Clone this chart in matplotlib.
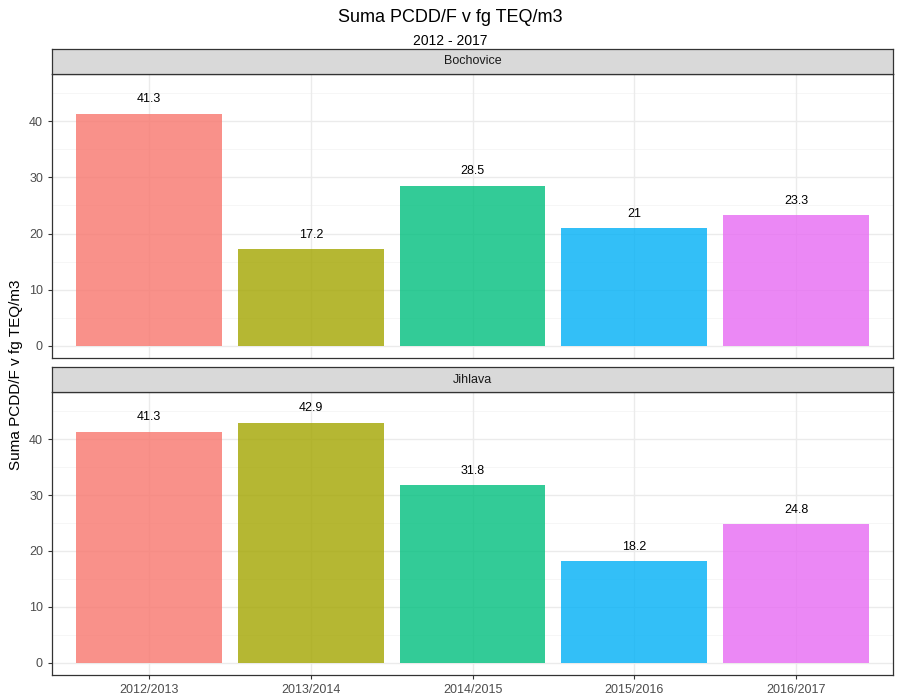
import matplotlib.pyplot as plt

plt.rcParams['font.family'] = ['Liberation Sans', 'DejaVu Sans']

seasons = ['2012/2013', '2013/2014', '2014/2015', '2015/2016', '2016/2017']
sites = ['Bochovice', 'Jihlava']
bochovice = [41.3, 17.2, 28.5, 21, 23.3]
jihlava = [41.3, 42.9, 31.8, 18.2, 24.8]
colors = ['#F8766D', '#A3A500', '#00BF7D', '#00B0F6', '#E76BF3']

W, H = 900, 700
fig = plt.figure(figsize=(9, 7), dpi=100)

def px_axes(x0, y0, x1, y1):
    return fig.add_axes([x0 / W, 1 - y1 / H, (x1 - x0) / W, (y1 - y0) / H])

panels = [(74, 358, 49), (392, 675, 367)]
data = [bochovice, jihlava]

for i, ((top, bot, stop), vals, site) in enumerate(zip(panels, data, sites)):
    ax = px_axes(52, top, 893, bot)
    xs = range(len(seasons))
    ax.set_xlim(-0.6, 4.6)
    ax.set_ylim(-2.15, 48.4)
    for y in [5, 15, 25, 35, 45]:
        ax.axhline(y, color='#F5F5F5', lw=0.6, zorder=0)
    for y in [0, 10, 20, 30, 40]:
        ax.axhline(y, color='#EBEBEB', lw=1.0, zorder=0)
    for x in xs:
        ax.axvline(x, color='#EBEBEB', lw=1.0, zorder=0)
    ax.bar(xs, vals, width=0.9, color=colors, alpha=0.8, zorder=2)
    for x, v in zip(xs, vals):
        ax.text(x, v + 1.5, f'{v:g}', ha='center', va='bottom', fontsize=9, color='black')
    ax.set_yticks([0, 10, 20, 30, 40])
    ax.tick_params(axis='y', labelsize=9, labelcolor='#4D4D4D', color='#333333', length=3)
    ax.set_xticks(list(xs))
    if i == 1:
        ax.set_xticklabels(seasons)
        ax.tick_params(axis='x', labelsize=9, labelcolor='#4D4D4D', color='#333333', length=3)
    else:
        ax.tick_params(axis='x', length=0, labelbottom=False)
    for s in ax.spines.values():
        s.set_color('#333333')
        s.set_linewidth(0.9)

    # facet strip
    sax = px_axes(52, stop, 893, top)
    sax.set_xticks([])
    sax.set_yticks([])
    sax.set_facecolor('#D9D9D9')
    for s in sax.spines.values():
        s.set_color('#333333')
        s.set_linewidth(0.9)
    sax.text(0.5, 0.5, site, ha='center', va='center', fontsize=9, color='#1A1A1A',
             transform=sax.transAxes)

fig.text(450 / W, 1 - 17 / H, 'Suma PCDD/F v fg TEQ/m3', ha='center', va='center', fontsize=13)
fig.text(450 / W, 1 - 41 / H, '2012 - 2017', ha='center', va='center', fontsize=10)
fig.text(16 / W, 1 - 375 / H, 'Suma PCDD/F v fg TEQ/m3', ha='center', va='center',
         rotation=90, fontsize=11)

fig.savefig('out.png', dpi=100)
